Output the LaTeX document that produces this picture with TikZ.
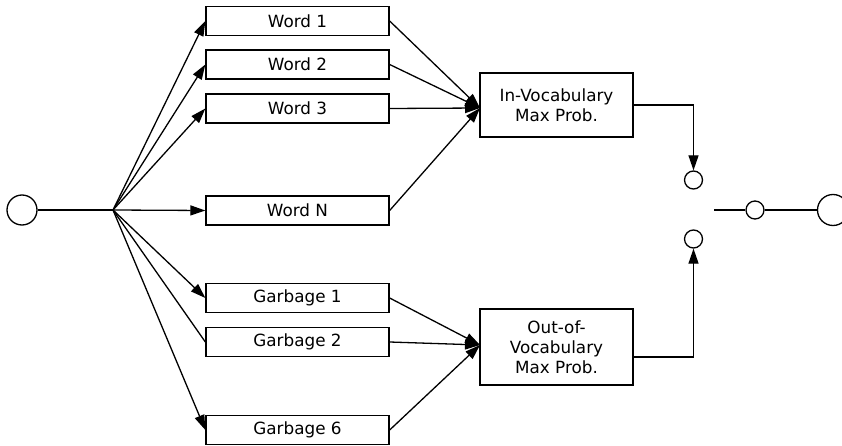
\documentclass[tikz,border=0pt]{standalone}
\usepackage{fontspec}
\setmainfont{DejaVu Sans}
\usetikzlibrary{arrows.meta}
\begin{document}
\begin{tikzpicture}[x=1pt,y=-1pt,
  ln/.style={line width=1.3pt},
  arr/.style={ln,-{Triangle[length=15pt,width=10pt]}},
  box/.style={draw,ln,minimum width=183pt,minimum height=29pt,inner sep=0pt,font=\fontsize{16.8}{19}\selectfont},
  bigbox/.style={draw,ln,minimum width=153pt,inner sep=0pt,align=center,font=\fontsize{16.8}{20}\selectfont},
  circ/.style={draw,ln,circle,inner sep=0pt},
]
\useasboundingbox (0,0) rectangle (842,446);
% left input
\node[circ,minimum size=30pt] (in) at (22,210) {};
\coordinate (hub) at (113,210);
% word boxes
\node[box] (w1) at (297.5,21) {Word 1};
\node[box] (w2) at (297.5,64.5) {Word 2};
\node[box] (w3) at (297.5,108.5) {Word 3};
\node[box] (wn) at (297.5,210.5) {Word N};
\node[box] (g1) at (297.5,298) {Garbage 1};
\node[box] (g2) at (297.5,342) {Garbage 2};
\node[box] (g6) at (297.5,430) {Garbage 6};
% max boxes
\node[bigbox,minimum height=64pt] (iv) at (556.5,105) {In-Vocabulary\\Max Prob.};
\node[bigbox,minimum height=76pt] (ov) at (556.5,347) {Out-of-\\Vocabulary\\Max Prob.};
\coordinate (ivin) at (480,108);
\coordinate (ovin) at (480,345);
% switch circles
\node[circ,minimum size=18pt] (s1) at (693.5,180) {};
\node[circ,minimum size=18pt] (s2) at (693.5,239) {};
\node[circ,minimum size=18pt] (s3) at (755,210) {};
\node[circ,minimum size=31pt] (out) at (833,210) {};
\coordinate (sw) at (714,210);
% connectors
\draw[ln] (in) -- (hub);
\draw[arr] (hub) -- (w1.west);
\draw[arr] (hub) -- (w2.west);
\draw[arr] (hub) -- (w3.west);
\draw[arr] (hub) -- (wn.west);
\draw[arr] (hub) -- (g1.west);
\draw[ln] (hub) -- (g2.west);
\draw[arr] (hub) -- (g6.west);
\draw[arr] (w1.east) -- (ivin);
\draw[arr] (w2.east) -- (ivin);
\draw[arr] (w3.east) -- (ivin);
\draw[arr] (wn.east) -- (ivin);
\draw[arr] (g1.east) -- (ovin);
\draw[arr] (g2.east) -- (ovin);
\draw[arr] (g6.east) -- (ovin);
\draw[arr] (iv.east) -| (s1.north);
\draw[arr] (ov.east |- 0,357) -| (s2.south);
\draw[ln] (sw) -- (s3) -- (out);
\end{tikzpicture}
\end{document}
